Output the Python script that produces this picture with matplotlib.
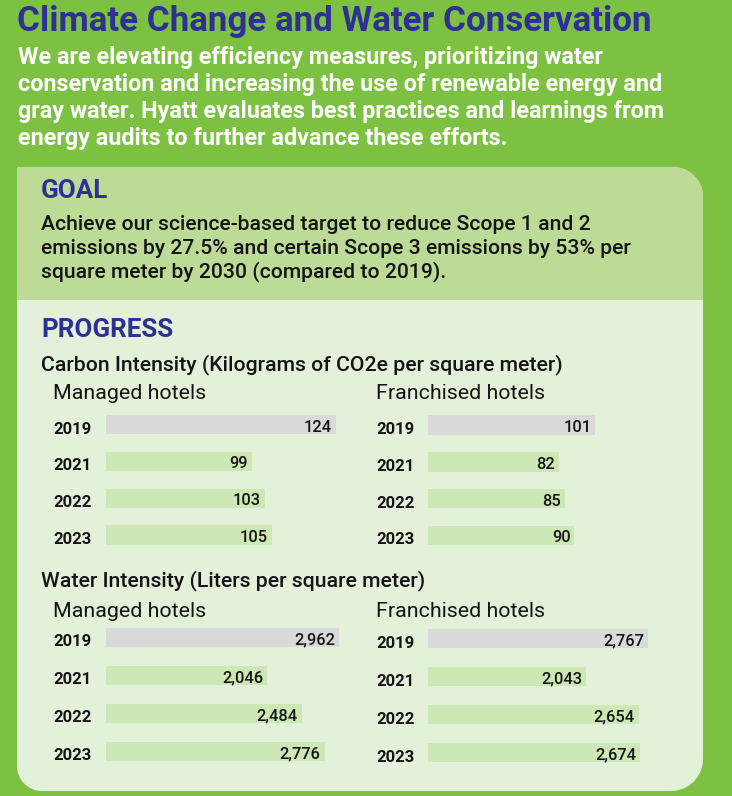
import matplotlib
matplotlib.use("Agg")
import matplotlib.pyplot as plt
import numpy as np
from matplotlib.path import Path
from matplotlib.patches import PathPatch, Rectangle
import matplotlib.transforms as mtransforms

# ---------------- data ----------------
title = "Climate Change and Water Conservation"
intro_lines = [
    "We are elevating efficiency measures, prioritizing water",
    "conservation and increasing the use of renewable energy and",
    "gray water. Hyatt evaluates best practices and learnings from",
    "energy audits to further advance these efforts.",
]
goal_heading = "GOAL"
goal_lines = [
    "Achieve our science-based target to reduce Scope 1 and 2",
    "emissions by 27.5% and certain Scope 3 emissions by 53% per",
    "square meter by 2030 (compared to 2019).",
]
progress_heading = "PROGRESS"
carbon_title = "Carbon Intensity (Kilograms of CO2e per square meter)"
water_title = "Water Intensity (Liters per square meter)"
managed_label = "Managed hotels"
franchised_label = "Franchised hotels"
years = ["2019", "2021", "2022", "2023"]
carbon_managed = [124, 99, 103, 105]
carbon_franchised = [101, 82, 85, 90]
water_managed = [2962, 2046, 2484, 2776]
water_franchised = [2767, 2043, 2654, 2674]

# ---------------- style ----------------
W, H, DPI = 732, 796, 100
GREEN_BG = "#7dc142"
GOAL_BG = "#bddb97"
PROG_BG = "#e4f1da"
NAVY = "#2e3192"
TXT = "#141414"
BAR_BASE = "#d9d9d9"
BAR_OTHER = "#cde7b5"
FONT = ["Roboto", "DejaVu Sans"]

plt.rcParams["font.family"] = FONT

fig = plt.figure(figsize=(W / DPI, H / DPI), dpi=DPI, facecolor=GREEN_BG)
bg = fig.add_axes([0, 0, 1, 1])
bg.set_xlim(0, W)
bg.set_ylim(H, 0)
bg.axis("off")
bg.set_zorder(0)


def rounded_path(x0, y0, x1, y1, r_tl, r_tr, r_br, r_bl):
    pts = []

    def arc(cx, cy, r, a0, a1):
        if r <= 0:
            return [(cx, cy)]
        t = np.linspace(np.radians(a0), np.radians(a1), 20)
        return list(zip(cx + r * np.cos(t), cy + r * np.sin(t)))

    # y axis points down in this frame
    pts += arc(x0 + r_tl, y0 + r_tl, r_tl, 180, 270)
    pts += arc(x1 - r_tr, y0 + r_tr, r_tr, 270, 360)
    pts += arc(x1 - r_br, y1 - r_br, r_br, 0, 90)
    pts += arc(x0 + r_bl, y1 - r_bl, r_bl, 90, 180)
    pts.append(pts[0])
    codes = [Path.MOVETO] + [Path.LINETO] * (len(pts) - 2) + [Path.CLOSEPOLY]
    return Path(pts, codes)


panel = PathPatch(rounded_path(17, 167, 703, 791, 0, 30, 32, 25),
                  facecolor=PROG_BG, edgecolor="none")
bg.add_patch(panel)
goal_rect = Rectangle((17, 167), 686, 133, facecolor=GOAL_BG, edgecolor="none")
bg.add_patch(goal_rect)
goal_rect.set_clip_path(panel)

# ---------------- texts ----------------
bg.text(17, 31, title, color=NAVY, fontsize=25.2, fontweight="bold", va="baseline")
for i, line in enumerate(intro_lines):
    bg.text(18, 64 + 27 * i, line, color="white", fontsize=16.8,
            fontweight="bold", va="baseline")
bg.text(41, 198, goal_heading, color=NAVY, fontsize=18.7, fontweight="bold", va="baseline")
for i, line in enumerate(goal_lines):
    bg.text(41, 230 + 23.5 * i, line, color=TXT, fontsize=15.2,
            fontweight="medium", va="baseline")
bg.text(41, 337, progress_heading, color=NAVY, fontsize=18.7, fontweight="bold", va="baseline")
bg.text(41, 370, carbon_title, color=TXT, fontsize=15.3, fontweight="medium", va="baseline")
bg.text(53, 399, managed_label, color=TXT, fontsize=15.4, va="baseline")
bg.text(376, 399, franchised_label, color=TXT, fontsize=15.4, va="baseline")
bg.text(41, 586, water_title, color=TXT, fontsize=15.3, fontweight="medium", va="baseline")
bg.text(53, 617, managed_label, color=TXT, fontsize=15.4, va="baseline")
bg.text(376, 617, franchised_label, color=TXT, fontsize=15.4, va="baseline")

# ---------------- bar panels ----------------
# (values, bar-left px, axis origin value, px per unit, axis right px,
#  first bar centre px, row spacing px, year label x px)
panels = [
    (carbon_managed, 105.7, 55.8, 3.38, 360, 424.7, 36.8, 53),
    (carbon_franchised, 428, 12.7, 1.895, 690, 425.0, 36.8, 376),
    (water_managed, 105.7, 0.0, 0.0789, 360, 637.5, 38.0, 53),
    (water_franchised, 428, 196.0, 0.0857, 690, 638.5, 38.0, 376),
]
BAR_PX = 19.5

for vals, xl, origin, scale, xr, yc0, sp, yx in panels:
    n = len(vals)
    top = yc0 - sp / 2
    ax = fig.add_axes([xl / W, 1 - (top + n * sp) / H, (xr - xl) / W, n * sp / H])
    ax.set_zorder(1)
    ax.patch.set_alpha(0)
    ax.set_xlim(origin, origin + (xr - xl) / scale)
    ax.set_ylim(n - 0.5, -0.5)
    ax.axis("off")
    ypos = np.arange(n)
    colors = [BAR_BASE] + [BAR_OTHER] * (n - 1)
    ax.barh(ypos, vals, height=BAR_PX / sp, color=colors, edgecolor="none")
    val_tr = ax.transData + mtransforms.ScaledTranslation(-4 / DPI, -7 / DPI, fig.dpi_scale_trans)
    year_tr = mtransforms.blended_transform_factory(bg.transData, ax.transData) + \
        mtransforms.ScaledTranslation(0, -9 / DPI, fig.dpi_scale_trans)
    for i, v in enumerate(vals):
        ax.text(v, i, f"{v:,}", transform=val_tr, ha="right", va="baseline",
                fontsize=11.8, fontweight="medium", color=TXT)
        ax.text(yx, i, years[i], transform=year_tr, ha="left", va="baseline",
                fontsize=12, fontweight="bold", color=TXT, clip_on=False)

fig.savefig("out.png", dpi=DPI, facecolor=GREEN_BG)
